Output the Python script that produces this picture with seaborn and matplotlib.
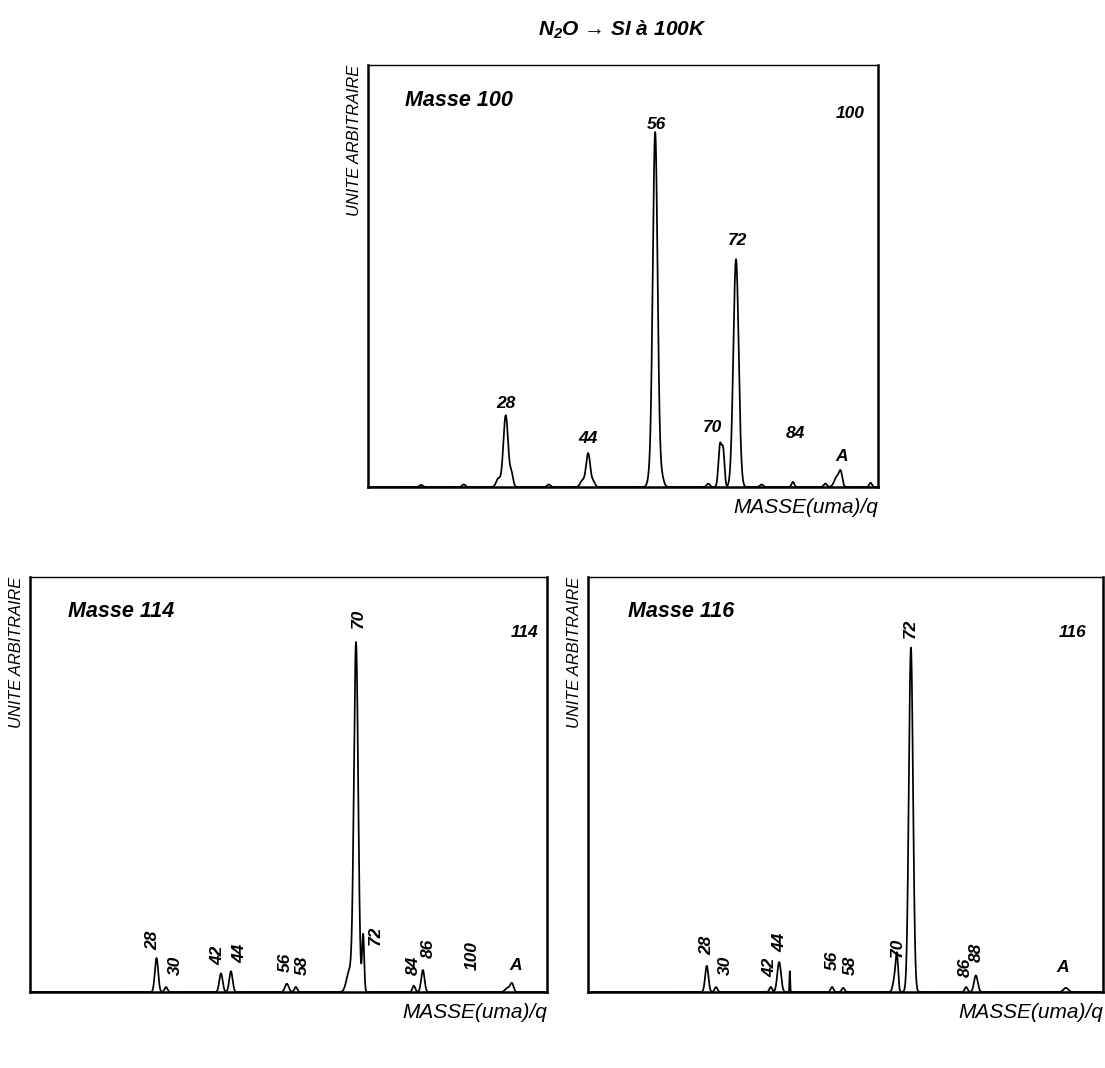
import numpy as np
import pandas as pd
import matplotlib
matplotlib.use("Agg")
import matplotlib.pyplot as plt
import seaborn as sns

# ---------------- data ----------------
# Panel "Masse 100"
p100_pos = [12.0, 20.0, 26.5, 27.9, 29.0, 36.0, 42.3, 43.4, 44.4, 55.0, 56.0, 57.2, 66.0, 68.2, 68.8, 71.2, 76.0, 81.9, 88.0, 90.2, 90.9, 96.5]
p100_h   = [0.005, 0.006, 0.020, 0.170, 0.030, 0.006, 0.015, 0.080, 0.012, 0.020, 0.840, 0.025, 0.008, 0.100, 0.080, 0.540, 0.006, 0.012, 0.008, 0.025, 0.030, 0.010]
p100_w   = [0.30, 0.30, 0.40, 0.45, 0.30, 0.30, 0.40, 0.40, 0.30, 0.40, 0.45, 0.40, 0.30, 0.30, 0.25, 0.50, 0.30, 0.25, 0.30, 0.50, 0.30, 0.25]
p100_lab = ["28", "44", "56", "70", "72", "84"]
p100_lab_x = [27.9, 43.3, 56.2, 66.7, 71.4, 82.3]
p100_lab_y = [0.199, 0.116, 0.860, 0.142, 0.583, 0.126]

# Panel "Masse 114"
p114_pos = [27.9, 29.9, 41.5, 43.6, 55.4, 57.3, 68.6, 70.0, 71.5, 82.2, 84.1, 102.0, 102.9]
p114_h   = [0.082, 0.012, 0.045, 0.050, 0.020, 0.012, 0.050, 0.840, 0.137, 0.015, 0.053, 0.010, 0.020]
p114_w   = [0.35, 0.30, 0.35, 0.35, 0.40, 0.30, 0.60, 0.45, 0.22, 0.30, 0.35, 0.50, 0.35]
p114_lab = ["28", "30", "42", "44", "56", "58", "70", "72", "84", "86", "100"]
p114_lab_x = [27.1, 31.8, 40.9, 45.5, 55.0, 58.6, 70.4, 74.0, 82.0, 85.2, 94.5]
p114_lab_y = [0.125, 0.065, 0.089, 0.094, 0.072, 0.065, 0.900, 0.137, 0.065, 0.106, 0.089]

# Panel "Masse 116"
p116_pos = [28.0, 30.0, 41.8, 43.6, 45.9, 55.0, 57.4, 68.6, 69.0, 72.0, 83.9, 86.0, 105.4]
p116_h   = [0.063, 0.012, 0.012, 0.072, 0.050, 0.012, 0.010, 0.040, 0.070, 0.830, 0.012, 0.040, 0.010]
p116_w   = [0.35, 0.30, 0.30, 0.40, 0.08, 0.30, 0.30, 0.40, 0.25, 0.45, 0.30, 0.40, 0.50]
p116_lab = ["28", "30", "42", "44", "56", "58", "70", "72", "86", "88"]
p116_lab_x = [28.0, 32.1, 41.6, 43.8, 55.0, 58.9, 69.0, 71.8, 83.7, 86.0]
p116_lab_y = [0.113, 0.065, 0.060, 0.120, 0.077, 0.063, 0.108, 0.877, 0.060, 0.096]

# ---------------- style ----------------
sns.set_theme(style="white")
plt.rcParams['font.family'] = ['Liberation Sans', 'DejaVu Sans']
plt.rcParams['mathtext.fontset'] = 'custom'
plt.rcParams['mathtext.it'] = 'Liberation Sans:italic:bold'
plt.rcParams['mathtext.rm'] = 'Liberation Sans:italic:bold'
plt.rcParams['mathtext.bf'] = 'Liberation Sans:italic:bold'

fig = plt.figure(figsize=(11.05, 10.68), dpi=100)
W, H = 1105.0, 1068.0

def ax_at(l, t, r, b):
    return fig.add_axes([l / W, 1 - b / H, (r - l) / W, (b - t) / H])

def spectrum(pos, h, w, xmin, xmax):
    x = np.linspace(xmin, xmax, 6000)
    y = np.zeros_like(x)
    for m, a, s in zip(pos, h, w):
        y += a * np.exp(-0.5 * ((x - m) / s) ** 2)
    return pd.DataFrame({"masse": x, "intensite": y})

bi = dict(fontweight="bold", fontstyle="italic", color="black")

def panel(ax, pos, h, w, xlim, labs, lx, ly, rot, name, name_x, tag, tag_xy, A_xy):
    df = spectrum(pos, h, w, xlim[0], xlim[1])
    sns.lineplot(data=df, x="masse", y="intensite", ax=ax, color="black",
                 lw=1.25, estimator=None)
    ax.set_xlim(*xlim)
    ax.set_ylim(0, 1)
    ax.set_xticks([])
    ax.set_yticks([])
    ax.set_xlabel("")
    ax.set_ylabel("")
    for sp in ax.spines.values():
        sp.set_visible(True)
        sp.set_color("black")
        sp.set_linewidth(1.8)
    ax.spines["top"].set_linewidth(1.0)
    for t, x, y in zip(labs, lx, ly):
        ax.text(x, y, t, rotation=rot, ha="center", va="center", fontsize=12.5, **bi)
    ax.text(A_xy[0], A_xy[1], "A", ha="center", va="center", fontsize=12.5, **bi)
    ax.text(tag_xy[0], tag_xy[1], tag, ha="center", va="center", fontsize=12.5, **bi)
    ax.text(name_x, 0.916, name, ha="left", va="center", fontsize=15.5, **bi)
    ax.text(1.0, -0.026, "MASSE(uma)/q", transform=ax.transAxes, ha="right",
            va="top", fontsize=15, fontstyle="italic", color="black")
    ax.text(-0.012, 1.0, "UNITE ARBITRAIRE", transform=ax.transAxes, ha="right",
            va="top", rotation=90, fontsize=11.8, fontstyle="italic", color="black")

# top panel
ax1 = ax_at(368, 65, 878, 487)
panel(ax1, p100_pos, p100_h, p100_w, (2.0, 97.9),
      p100_lab, p100_lab_x, p100_lab_y, 0,
      "Masse 100", 9.0, "100", (92.6, 0.886), (91.1, 0.073))

# bottom left
ax2 = ax_at(30, 577, 547, 992)
panel(ax2, p114_pos, p114_h, p114_w, (1.2, 110.3),
      p114_lab, p114_lab_x, p114_lab_y, 90,
      "Masse 114", 9.2, "114", (105.6, 0.867), (103.7, 0.063))

# bottom right
ax3 = ax_at(588, 577, 1103, 992)
panel(ax3, p116_pos, p116_h, p116_w, (2.4, 113.4),
      p116_lab, p116_lab_x, p116_lab_y, 90,
      "Masse 116", 11.0, "116", (106.9, 0.867), (104.8, 0.058))

fig.text(622 / W, 1 - 30 / H, r"$N_2O$ → SI à 100K", ha="center",
         va="center", fontsize=15, **bi)

fig.savefig("out.png", dpi=100, facecolor="white")
